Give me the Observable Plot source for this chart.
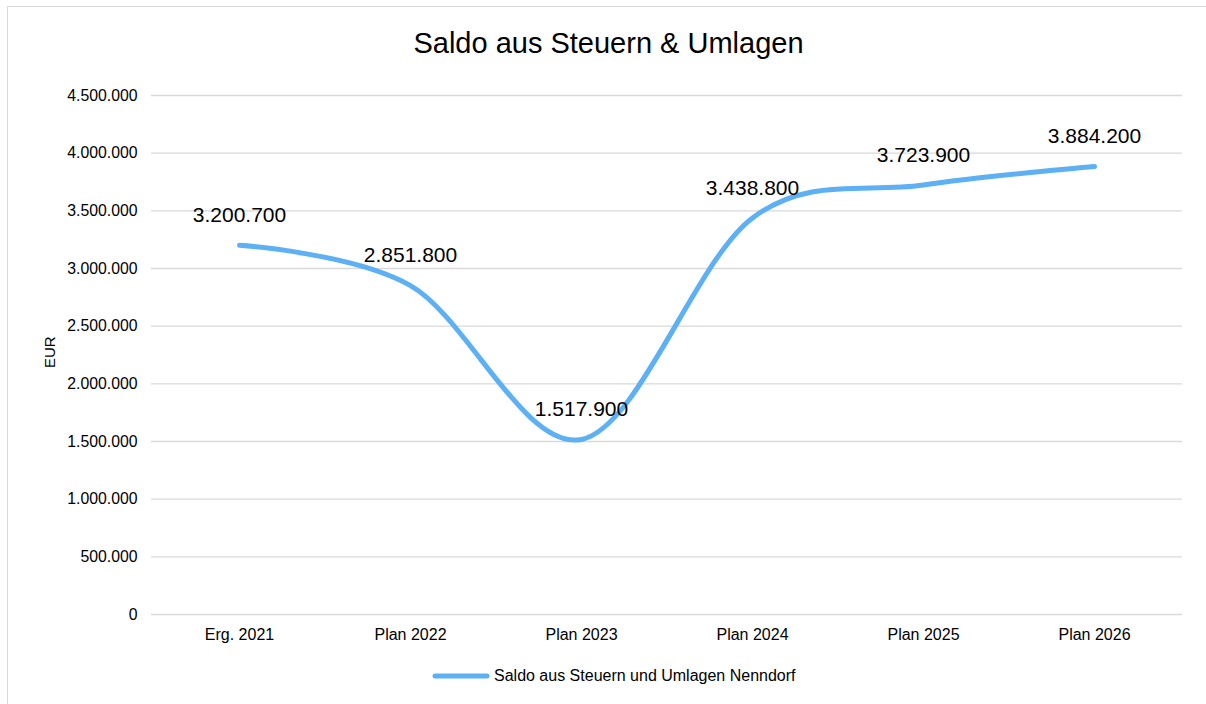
<!DOCTYPE html>
<html>
<head>
<meta charset="utf-8">
<script src="https://cdn.jsdelivr.net/npm/d3@7"></script>
<script src="https://cdn.jsdelivr.net/npm/@observablehq/plot@0.6"></script>
<style>
  html, body { margin: 0; padding: 0; background: #fff; overflow: hidden; }
  body { width: 1206px; height: 704px; position: relative; font-family: "Liberation Sans", Arial, sans-serif; }
  #frame { position: absolute; left: 7px; top: 6px; width: 1300px; height: 800px; border: 1.5px solid #d9d9d9; box-sizing: border-box; }
  #chart { position: absolute; left: 0; top: 0; }
  #title { position: absolute; left: 0; width: 1217px; top: 29px; text-align: center; font-size: 29px; line-height: 29px; color: #000; }
  #legend { position: absolute; left: 432px; top: 667px; display: flex; align-items: center; font-size: 16px; color: #000; }
  #legend svg { margin-right: 4px; }
</style>
</head>
<body>
<div id="frame"></div>
<div id="chart"></div>
<div id="title">Saldo aus Steuern &amp; Umlagen</div>
<div id="legend"></div>
<script>
const categories = ["Erg. 2021", "Plan 2022", "Plan 2023", "Plan 2024", "Plan 2025", "Plan 2026"];
const values = [3200700, 2851800, 1517900, 3438800, 3723900, 3884200];
const yTicks = [0, 500000, 1000000, 1500000, 2000000, 2500000, 3000000, 3500000, 4000000, 4500000];
const seriesName = "Saldo aus Steuern und Umlagen Nenndorf";
const lineColor = "#5cb0f3";

const de = d3.formatLocale({decimal: ",", thousands: ".", grouping: [3], currency: ["", " €"]});
const fmt = de.format(",");

const data = categories.map((c, i) => ({category: c, value: values[i]}));

const chart = Plot.plot({
  width: 1206,
  height: 650,
  marginTop: 95,
  marginBottom: 36,
  marginLeft: 151,
  marginRight: 24,
  style: {fontFamily: "Liberation Sans, Arial, sans-serif", color: "#000", background: "transparent"},
  x: {type: "point", domain: categories, padding: 0.5},
  y: {domain: [0, 4500000]},
  marks: [
    Plot.gridY(yTicks, {stroke: "#d9d9d9", strokeOpacity: 1, strokeWidth: 1.3}),
    Plot.axisY(yTicks, {tickSize: 0, tickPadding: 14, tickFormat: fmt, fontSize: 15.8, label: null}),
    Plot.axisX({tickSize: 0, tickPadding: 14, fontSize: 16, label: null}),
    Plot.text(["EUR"], {frameAnchor: "left", dx: -101, dy: 13, rotate: -90, fontSize: 15, fill: "#000"}),
    Plot.line(data, {x: "category", y: "value", stroke: lineColor, strokeWidth: 5, curve: "cardinal", tension: 0, strokeLinecap: "round", strokeLinejoin: "round"}),
    Plot.text(data, {x: "category", y: "value", text: d => fmt(d.value), dy: -30, fontSize: 21, fill: "#000"})
  ]
});
document.getElementById("chart").appendChild(chart);

const legend = document.getElementById("legend");
legend.innerHTML = `<svg width="58" height="10"><line x1="3" y1="5" x2="55" y2="5" stroke="${lineColor}" stroke-width="5" stroke-linecap="round"/></svg><span>${seriesName}</span>`;
</script>
</body>
</html>
